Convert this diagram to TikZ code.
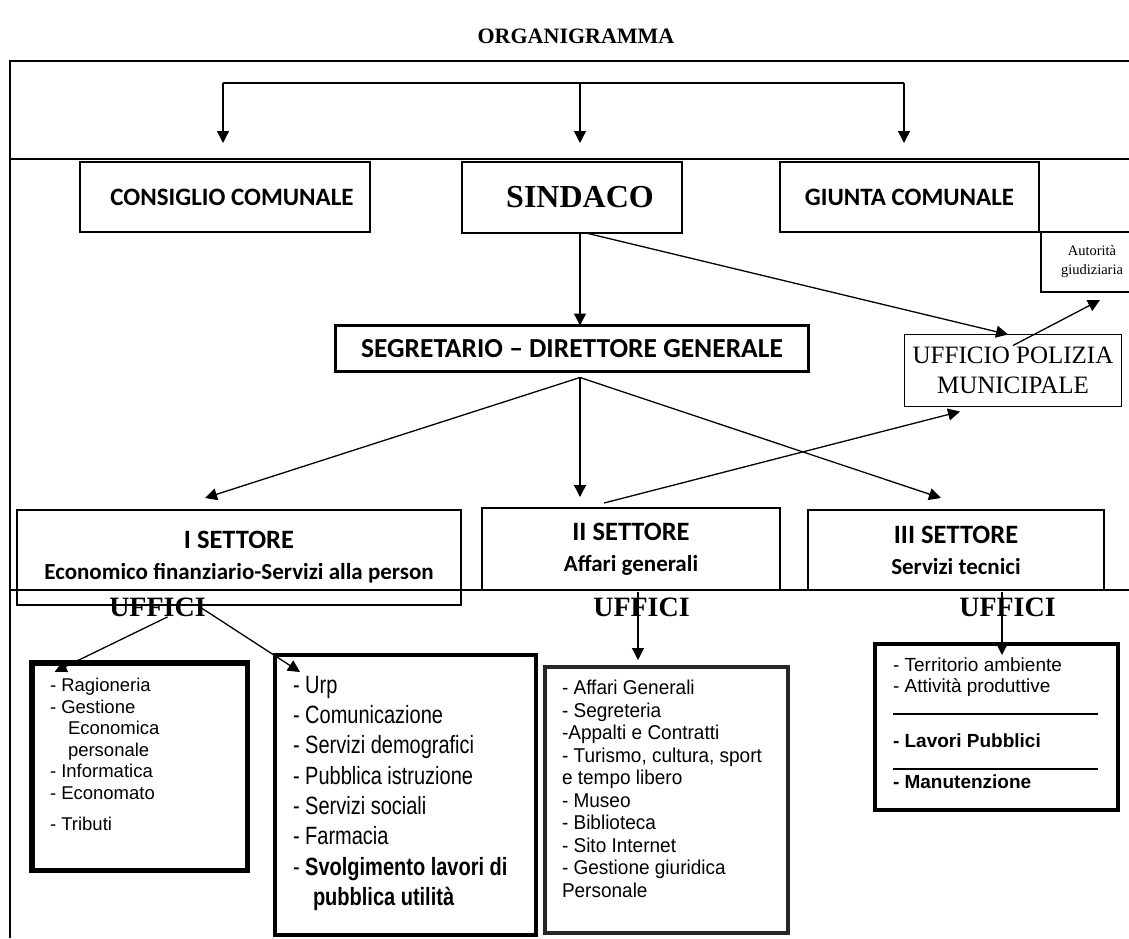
\documentclass[tikz,border=0pt]{standalone}
\usepackage{fontspec}
\setmainfont{Liberation Serif}
\newfontfamily\calibri{Carlito}
\newfontfamily\arial{Liberation Sans}
\newfontfamily\arialnarrow[FakeStretch=0.8]{Liberation Sans}
\newfontfamily\arialcond[FakeStretch=0.95]{Liberation Sans}
\usetikzlibrary{arrows.meta,positioning,calc}
\tikzset{
	every node/.style={
		inner sep=0pt,
		outer sep=0pt
	},
	organo/.style={
		shape=rectangle,
		anchor=north west,
		draw,
		align=center,
		font=\calibri\bfseries\fontsize{25}{30}\selectfont
	},
	settore/.style={
		shape=rectangle,
		anchor=north west,
		draw,
		align=center,
		font=\calibri\bfseries\fontsize{23}{31}\selectfont
	},
	ufficio/.style={
		shape=rectangle,
		anchor=north west,
		draw
	},
	elenco/.style={
		anchor=north west,
		align=left
	},
	uffici/.style={
		font=\bfseries\fontsize{28}{30}\selectfont
	}
}

\begin{document}
\begin{tikzpicture}
	[x=1pt, y=-1pt, line width=1.3pt, >={Triangle[length=12pt,width=12pt]}]
	\tikzstyle{arr}=[->]
	\useasboundingbox (0,0) rectangle (1129,938);
	\coordinate (rt) at (1129,0);
	
	\node[font=\bfseries\fontsize{22}{26}\selectfont] (titolo) at (576,36) {ORGANIGRAMMA};
	
	\draw (1129,61) -- (10,61) -- (10,938);
	\draw (10,159) -- (1129,159);
	\draw (10,590) -- (1129,590);
	
	\node[organo, line width=1.5pt, minimum width=290pt, minimum height=70pt] (consiglio) at (80,162) {\hspace*{14pt}CONSIGLIO COMUNALE};
	\node[organo, line width=2.6pt, minimum width=220pt, minimum height=71pt, font=\bfseries\fontsize{32}{34}\selectfont] (sindaco) at (462,162) {\hspace*{16pt}SINDACO};
	\node[organo, line width=2.6pt, minimum width=259pt, minimum height=70pt] (giunta) at (780,162) {GIUNTA COMUNALE};
	\node[organo, draw=none, minimum width=102pt, minimum height=60pt, font=\fontsize{14.5}{19}\selectfont] (autorita) at (1041,232) {Autorità\\giudiziaria};
	\draw[line width=2.6pt] (rt |- autorita.north) -- (autorita.north west) -- (autorita.south west) -- (rt |- autorita.south);
	
	\node[organo, line width=3pt, minimum width=473pt, minimum height=46pt, font=\calibri\bfseries\fontsize{27.5}{30}\selectfont] (segr) at (335.5,325.5) {SEGRETARIO – DIRETTORE GENERALE};
	\node[organo, minimum width=217pt, minimum height=72pt, font=\fontsize{25}{30}\selectfont] (polizia) at (904.5,334.5) {UFFICIO POLIZIA\\MUNICIPALE};
	
	\node[settore, minimum width=444pt, minimum height=95pt] (sett1) at (17,510) {{\fontsize{26.5}{31}\selectfont I SETTORE}\\Economico finanziario-Servizi alla person};
	\node[settore, minimum width=298pt, minimum height=82pt] (sett2) at (482,508) {{\fontsize{26.5}{31}\selectfont II SETTORE}\\Affari generali};
	\node[settore, minimum width=296pt, minimum height=80pt] (sett3) at (808,510) {{\fontsize{26.5}{31}\selectfont III SETTORE}\\Servizi tecnici};
	
	\foreach \nome/\x in {u1/157.5, u2/641.5, u3/1007.5}
		\node[uffici] (\nome) at (\x,607.5) {UFFICI};
	
	\node[ufficio, line width=5.5pt, minimum width=215.5pt, minimum height=207.5pt] (ufA) at (31.75,662.75) {};
	\node[ufficio, line width=4pt, minimum width=261pt, minimum height=280pt] (ufB) at (275,655) {};
	\node[ufficio, line width=4pt, draw=black!85, minimum width=243pt, minimum height=266pt] (ufC) at (545,667) {};
	\node[ufficio, line width=4.5pt, minimum width=243pt, minimum height=166pt] (ufD) at (875,644) {};
	
	\node[elenco, font=\arial\fontsize{18.5}{21.5}\selectfont] (testoA) at (50,678.5) {- Ragioneria\\- Gestione\\\hspace*{18pt}Economica\\\hspace*{18pt}personale\\- Informatica\\- Economato\\[10pt]- Tributi};
	\node[elenco, font=\arialnarrow\fontsize{25}{30.3}\selectfont] (testoB) at (293,676) {- Urp\\- Comunicazione\\- Servizi demografici\\- Pubblica istruzione\\- Servizi sociali\\- Farmacia\\- \textbf{Svolgimento lavori di}\\\hspace*{20pt}\textbf{pubblica utilità}};
	\node[elenco, font=\arialcond\fontsize{20}{22.5}\selectfont] (testoC) at (562,680) {- Affari Generali\\- Segreteria\\-Appalti e Contratti\\- Turismo, cultura, sport\\e tempo libero\\- Museo\\- Biblioteca\\- Sito Internet\\- Gestione giuridica\\Personale};
	\node[elenco, font=\arial\fontsize{19}{21}\selectfont] (testoD1) at (893,658) {- Territorio ambiente\\- Attività produttive};
	\draw[line width=2pt] (893,714) -- (1098,714);
	\node[elenco, font=\arial\bfseries\fontsize{19}{21}\selectfont] (testoD2) at (893,734) {- Lavori Pubblici};
	\draw[line width=2pt] (893,769) -- (1098,769);
	\node[elenco, font=\arial\bfseries\fontsize{19}{21}\selectfont] (testoD3) at (893,775) {- Manutenzione};
	
	\coordinate (b1) at (223,83);
	\coordinate (b2) at (580,83);
	\coordinate (b3) at (904,83);
	\draw (b1) -- (b3);
	\draw[arr] (b1) -- ([xshift=-2pt,yshift=19pt]consiglio.north);
	\draw[arr] (b2) -- ([xshift=8pt,yshift=19pt]sindaco.north);
	\draw[arr] (b3) -- ([xshift=-5.5pt,yshift=19pt]giunta.north);
	
	\draw[arr] ([xshift=8pt]sindaco.south) -- ([xshift=8pt]segr.north);
	\draw[arr] ([xshift=14pt]sindaco.south) -- ([xshift=-5pt]polizia.north);
	\draw[arr] ([yshift=-11pt]polizia.north) -- ([xshift=8pt,yshift=-8pt]autorita.south);
	
	\coordinate (apice) at ([xshift=8pt,yshift=-6pt]segr.south);
	\draw[arr] (apice) -- ([xshift=-34pt,yshift=12pt]sett1.north);
	\draw[arr] (apice) -- ([xshift=-51pt,yshift=11pt]sett2.north);
	\draw[arr] (apice) -- ([xshift=-15pt,yshift=12pt]sett3.north);
	\draw[arr] ([xshift=-27pt,yshift=5pt]sett2.north) -- ([xshift=-53pt,yshift=-5pt]polizia.south);
	
	\draw[arr] ([xshift=10pt]u1.south) -- ([xshift=23pt,yshift=-9pt]ufA.north west);
	\draw[arr] ([xshift=-5pt]u1.east) -- ([xshift=25pt,yshift=-17pt]ufB.north west);
	\draw[arr] ([xshift=-3.5pt,yshift=6pt]u2.north) -- ([xshift=-28.5pt,yshift=7pt]ufC.north);
	\draw[arr] ([xshift=-5.5pt,yshift=6pt]u3.north) -- ([xshift=5.5pt,yshift=-11pt]ufD.north);
\end{tikzpicture}
\end{document}
